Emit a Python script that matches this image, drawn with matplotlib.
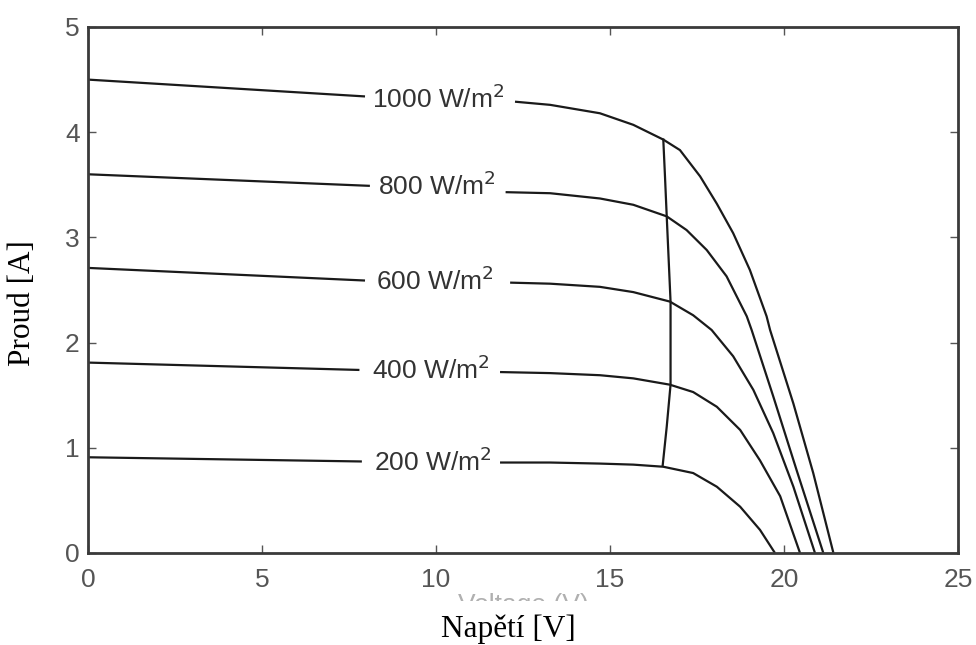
import matplotlib
matplotlib.use("Agg")
import matplotlib.pyplot as plt
from matplotlib.transforms import Bbox

# ---- data (voltage V, current A) ----
labels = ["1000 W/m$^2$", "800 W/m$^2$", "600 W/m$^2$", "400 W/m$^2$", "200 W/m$^2$"]

# first two points: left of the inline label; rest: right of the label
v_1000 = [0.0, 7.96, 12.27, 13.28, 14.71, 15.67, 16.53, 17.01, 17.59, 18.07, 18.54, 19.02, 19.5, 19.6, 20.27, 20.84, 21.42]
i_1000 = [4.50, 4.34, 4.29, 4.26, 4.18, 4.07, 3.93, 3.83, 3.58, 3.32, 3.04, 2.69, 2.25, 2.12, 1.42, 0.76, 0.0]

v_800 = [0.0, 8.1, 12.0, 13.28, 14.71, 15.67, 16.63, 17.2, 17.78, 18.35, 18.93, 19.07, 19.69, 20.36, 21.13]
i_800 = [3.60, 3.49, 3.43, 3.42, 3.37, 3.31, 3.20, 3.07, 2.88, 2.63, 2.25, 2.12, 1.49, 0.79, 0.0]

v_600 = [0.0, 7.96, 12.13, 13.28, 14.71, 15.67, 16.72, 17.39, 17.92, 18.54, 19.12, 19.69, 20.27, 20.89]
i_600 = [2.71, 2.59, 2.57, 2.56, 2.53, 2.48, 2.39, 2.26, 2.12, 1.87, 1.55, 1.14, 0.63, 0.0]

v_400 = [0.0, 7.8, 11.84, 13.28, 14.71, 15.67, 16.72, 17.39, 18.07, 18.74, 19.31, 19.89, 20.46]
i_400 = [1.81, 1.74, 1.72, 1.71, 1.69, 1.66, 1.60, 1.53, 1.39, 1.17, 0.88, 0.54, 0.0]

v_200 = [0.0, 7.87, 11.84, 13.28, 14.71, 15.67, 16.53, 17.39, 18.07, 18.74, 19.31, 19.74]
i_200 = [0.91, 0.87, 0.86, 0.86, 0.85, 0.84, 0.82, 0.76, 0.63, 0.44, 0.22, 0.0]

# maximum power point line
v_mpp = [16.53, 16.58, 16.63, 16.74, 16.74, 16.63, 16.51]
i_mpp = [3.94, 3.58, 3.20, 2.39, 1.60, 1.20, 0.82]

# inline label placement (voltage centre, baseline current)
label_v = [10.06, 10.04, 9.97, 9.86, 9.90]
label_i = [4.23, 3.40, 2.50, 1.65, 0.78]

curves = [(v_1000, i_1000), (v_800, i_800), (v_600, i_600), (v_400, i_400), (v_200, i_200)]

x_ticks = [0, 5, 10, 15, 20, 25]
y_ticks = [0, 1, 2, 3, 4, 5]

fig = plt.figure(figsize=(9.76, 6.45), dpi=100)
ax = fig.add_axes([88/976, 92/645, 870/976, 526/645])

line_kw = dict(color="#1a1a1a", lw=1.6, solid_capstyle="butt", solid_joinstyle="round")
for (v, i), lab, lv, li in zip(curves, labels, label_v, label_i):
    ax.plot(v[:2], i[:2], **line_kw)
    ax.plot(v[2:], i[2:], **line_kw)
    ax.text(lv, li, lab, ha="center", va="baseline", fontsize=19,
            family="Liberation Sans", color="#333333")

ax.plot(v_mpp, i_mpp, **line_kw)

ax.set_xlim(0, 25)
ax.set_ylim(0, 5)
ax.set_xticks(x_ticks)
ax.set_yticks(y_ticks)
ax.tick_params(direction="in", length=6, width=1, colors="#555555",
               top=True, right=True, labelsize=19)
ax.tick_params(axis="x", pad=11)
ax.tick_params(axis="y", pad=6)
for lab in ax.get_xticklabels() + ax.get_yticklabels():
    lab.set_family("Liberation Sans")
    lab.set_color("#555555")
for s in ax.spines.values():
    s.set_linewidth(2)
    s.set_color("#3a3a3a")

# partially hidden original axis title (only its top edge shows)
t = fig.text(523/976, (645-612)/645, "Voltage (V)", ha="center", va="baseline",
             fontsize=19, family="Liberation Sans", color="#b0b0b0")
t.set_clip_box(Bbox([[0, 645-601], [976, 645-585]]))
t.set_clip_on(True)

fig.text(508/976, (645-637)/645, "Napětí [V]", ha="center", va="baseline",
         fontsize=22.5, family="Liberation Serif", color="black")
fig.text(23/976, (645-303)/645, "Proud [A]", ha="center", va="center",
         rotation=90, fontsize=22.5, family="Liberation Serif", color="black")

fig.savefig("out.png", dpi=100)
